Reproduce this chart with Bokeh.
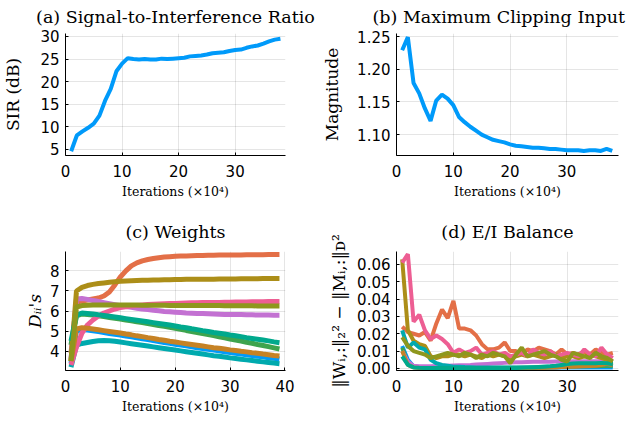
from bokeh.plotting import figure
from bokeh.layouts import gridplot
from bokeh.models import Range1d, FixedTicker, NumeralTickFormatter
from bokeh.embed import file_html
from bokeh.resources import INLINE

# ---------------- data ----------------
iters_ab = list(range(1, 39))
sir_db = [4.6, 8.1, 9.0, 9.8, 10.7, 12.5, 15.8, 18.4, 22.3, 24.0,
          25.2, 25.0, 24.9, 25.0, 24.9, 24.9, 25.1, 25.0, 25.1, 25.2,
          25.3, 25.6, 25.7, 25.8, 26.0, 26.3, 26.4, 26.5, 26.8, 27.0,
          27.1, 27.5, 27.8, 28.0, 28.4, 28.9, 29.3, 29.5]
max_clip = [1.229, 1.249, 1.179, 1.163, 1.140, 1.121, 1.152, 1.161, 1.155, 1.145,
            1.127, 1.119, 1.112, 1.106, 1.100, 1.096, 1.092, 1.090, 1.088, 1.085,
            1.083, 1.082, 1.081, 1.080, 1.080, 1.079, 1.078, 1.078, 1.077, 1.076,
            1.076, 1.076, 1.075, 1.076, 1.076, 1.075, 1.078, 1.075]

iters_c = list(range(1, 40))
w_blue = [3.4, 5.0, 5.08, 5.05, 5.01, 4.97, 4.93, 4.88, 4.84, 4.8,
          4.75, 4.71, 4.66, 4.61, 4.57, 4.52, 4.48, 4.43, 4.39, 4.34,
          4.3, 4.26, 4.21, 4.17, 4.13, 4.09, 4.05, 4.01, 3.97, 3.93,
          3.89, 3.85, 3.81, 3.78, 3.74, 3.71, 3.67, 3.64, 3.6]
w_orange = [3.9, 6.45, 6.5, 6.55, 6.6, 6.65, 6.75, 6.95, 7.3, 7.7,
            8.0, 8.25, 8.4, 8.5, 8.57, 8.62, 8.66, 8.69, 8.71, 8.73,
            8.74, 8.75, 8.76, 8.77, 8.77, 8.78, 8.78, 8.79, 8.79, 8.8,
            8.8, 8.8, 8.81, 8.81, 8.81, 8.81, 8.82, 8.82, 8.82]
w_green = [4.3, 5.75, 5.85, 5.83, 5.8, 5.76, 5.72, 5.68, 5.64, 5.6,
           5.55, 5.51, 5.46, 5.42, 5.37, 5.33, 5.28, 5.24, 5.19, 5.14,
           5.09, 5.03, 4.98, 4.93, 4.87, 4.82, 4.77, 4.71, 4.66, 4.6,
           4.55, 4.5, 4.44, 4.39, 4.33, 4.28, 4.22, 4.16, 4.1]
w_purple = [3.6, 6.6, 6.62, 6.58, 6.52, 6.47, 6.42, 6.37, 6.32, 6.27,
            6.22, 6.18, 6.14, 6.1, 6.07, 6.04, 6.01, 5.98, 5.96, 5.94,
            5.92, 5.9, 5.89, 5.88, 5.87, 5.86, 5.85, 5.84, 5.83, 5.83,
            5.82, 5.82, 5.81, 5.81, 5.8, 5.8, 5.8, 5.79, 5.79]
w_olive = [3.5, 7.0, 7.18, 7.27, 7.33, 7.37, 7.4, 7.43, 7.46, 7.48,
           7.5, 7.51, 7.52, 7.53, 7.54, 7.55, 7.55, 7.56, 7.56, 7.57,
           7.57, 7.58, 7.58, 7.58, 7.59, 7.59, 7.59, 7.6, 7.6, 7.6,
           7.6, 7.61, 7.61, 7.61, 7.61, 7.62, 7.62, 7.62, 7.62]
w_teal = [3.2, 4.3, 4.38, 4.43, 4.48, 4.51, 4.53, 4.52, 4.49, 4.45,
          4.41, 4.37, 4.33, 4.29, 4.25, 4.21, 4.17, 4.13, 4.09, 4.05,
          4.01, 3.97, 3.93, 3.89, 3.85, 3.81, 3.77, 3.74, 3.7, 3.66,
          3.63, 3.59, 3.56, 3.53, 3.49, 3.46, 3.43, 3.4, 3.37]
w_pink = [3.3, 4.2, 4.9, 5.3, 5.55, 5.75, 5.9, 6.0, 6.1, 6.17,
          6.21, 6.25, 6.28, 6.3, 6.32, 6.34, 6.35, 6.36, 6.37, 6.38,
          6.39, 6.4, 6.41, 6.41, 6.42, 6.42, 6.43, 6.43, 6.44, 6.44,
          6.45, 6.45, 6.45, 6.46, 6.46, 6.46, 6.47, 6.47, 6.47]
w_brown = [3.5, 5.1, 5.17, 5.14, 5.1, 5.06, 5.02, 4.98, 4.94, 4.9,
           4.85, 4.81, 4.76, 4.72, 4.67, 4.63, 4.58, 4.54, 4.49, 4.45,
           4.41, 4.37, 4.33, 4.29, 4.25, 4.21, 4.17, 4.14, 4.1, 4.06,
           4.03, 3.99, 3.96, 3.92, 3.89, 3.85, 3.82, 3.78, 3.75]
w_seagreen = [4.5, 5.8, 5.9, 5.88, 5.85, 5.81, 5.78, 5.74, 5.7, 5.66,
              5.62, 5.58, 5.54, 5.5, 5.46, 5.42, 5.38, 5.34, 5.3, 5.25,
              5.2, 5.16, 5.11, 5.07, 5.02, 4.98, 4.93, 4.89, 4.85, 4.8,
              4.76, 4.72, 4.67, 4.63, 4.59, 4.55, 4.51, 4.46, 4.42]
w_lime = [3.5, 6.2, 6.27, 6.29, 6.3, 6.3, 6.3, 6.3, 6.3, 6.3,
          6.3, 6.3, 6.3, 6.29, 6.29, 6.29, 6.29, 6.29, 6.28, 6.28,
          6.28, 6.28, 6.28, 6.27, 6.27, 6.27, 6.27, 6.27, 6.26, 6.26,
          6.26, 6.26, 6.26, 6.26, 6.25, 6.25, 6.25, 6.25, 6.25]

ei_blue = [0.013, 0.005, 0.0012, 0.0006, 0.0004, 0.0003, 0.0003, 0.0003, 0.0003, 0.0003,
           0.0003, 0.0003, 0.0003, 0.0003, 0.0003, 0.0003, 0.0003, 0.0003, 0.0003, 0.0003,
           0.0003, 0.0003, 0.0003, 0.0003, 0.0003, 0.0004, 0.0004, 0.0004, 0.0005, 0.0005,
           0.0005, 0.0005, 0.0006, 0.0006, 0.0006, 0.0006, 0.0006, 0.0005]
ei_orange = [0.024, 0.021, 0.02, 0.019, 0.021, 0.016, 0.026, 0.034, 0.029, 0.039,
             0.023, 0.023, 0.022, 0.019, 0.014, 0.011, 0.011, 0.012, 0.015, 0.01,
             0.01, 0.008, 0.011, 0.01, 0.012, 0.011, 0.01, 0.008, 0.011, 0.008,
             0.009, 0.008, 0.01, 0.008, 0.011, 0.009, 0.008, 0.009]
ei_green = [0.012, 0.003, 0.0008, 0.0005, 0.0004, 0.0004, 0.0004, 0.0004, 0.0004, 0.0004,
            0.0004, 0.0004, 0.0004, 0.0004, 0.0004, 0.0004, 0.0004, 0.0004, 0.0004, 0.0004,
            0.0004, 0.0004, 0.0004, 0.0005, 0.0005, 0.0006, 0.0007, 0.0008, 0.0009, 0.001,
            0.0011, 0.0012, 0.0012, 0.0013, 0.0013, 0.0014, 0.0014, 0.0012]
ei_purple = [0.01, 0.004, 0.0015, 0.0012, 0.0012, 0.0013, 0.0014, 0.0015, 0.0016, 0.0017,
             0.0018, 0.0019, 0.002, 0.0022, 0.0024, 0.0026, 0.0028, 0.003, 0.0032, 0.0034,
             0.0035, 0.0036, 0.0037, 0.0038, 0.0038, 0.0039, 0.0039, 0.004, 0.004, 0.004,
             0.0041, 0.0041, 0.0041, 0.0042, 0.0042, 0.0042, 0.0042, 0.004]
ei_olive = [0.063, 0.022, 0.016, 0.014, 0.013, 0.007, 0.006, 0.007, 0.007, 0.008,
            0.008, 0.007, 0.008, 0.007, 0.006, 0.008, 0.007, 0.008, 0.007, 0.006,
            0.007, 0.008, 0.007, 0.008, 0.007, 0.006, 0.007, 0.008, 0.006, 0.007,
            0.007, 0.006, 0.007, 0.008, 0.007, 0.006, 0.005, 0.004]
ei_teal = [0.022, 0.012, 0.015, 0.012, 0.011, 0.005, 0.003, 0.002, 0.0015, 0.001,
           0.001, 0.0008, 0.0007, 0.0006, 0.0005, 0.0005, 0.0005, 0.0005, 0.0005, 0.0005,
           0.0005, 0.0005, 0.0006, 0.0007, 0.0008, 0.001, 0.001, 0.0012, 0.0015, 0.0018,
           0.002, 0.002, 0.0022, 0.0022, 0.0024, 0.0024, 0.0023, 0.0015]
ei_pink = [0.061, 0.066, 0.027, 0.031, 0.022, 0.017, 0.019, 0.017, 0.014, 0.009,
           0.011, 0.009, 0.01, 0.012, 0.008, 0.009, 0.01, 0.008, 0.009, 0.007,
           0.008, 0.009, 0.007, 0.011, 0.009, 0.008, 0.01, 0.007, 0.008, 0.009,
           0.008, 0.007, 0.011, 0.008, 0.007, 0.012, 0.008, 0.006]
ei_brown = [0.01, 0.002, 0.0006, 0.0003, 0.0002, 0.0002, 0.0002, 0.0002, 0.0002, 0.0002,
            0.0002, 0.0002, 0.0002, 0.0002, 0.0002, 0.0002, 0.0002, 0.0002, 0.0002, 0.0002,
            0.0002, 0.0002, 0.0003, 0.0003, 0.0004, 0.0004, 0.0005, 0.0006, 0.0008, 0.0009,
            0.001, 0.0011, 0.0012, 0.0014, 0.0016, 0.002, 0.0025, 0.0018]
ei_seagreen = [0.007, 0.002, 0.0006, 0.0004, 0.0003, 0.0003, 0.0003, 0.0003, 0.0003, 0.0003,
               0.0003, 0.0003, 0.0003, 0.0003, 0.0003, 0.0003, 0.0003, 0.0003, 0.0003, 0.0003,
               0.0003, 0.0004, 0.0005, 0.0006, 0.0008, 0.001, 0.0012, 0.0015, 0.002, 0.0025,
               0.0028, 0.003, 0.003, 0.003, 0.003, 0.0032, 0.003, 0.0025]
ei_lime = [0.018, 0.013, 0.01, 0.009, 0.008, 0.006, 0.007, 0.008, 0.009, 0.008,
           0.007, 0.009, 0.008, 0.006, 0.008, 0.007, 0.009, 0.008, 0.007, 0.003,
           0.008, 0.012, 0.007, 0.008, 0.009, 0.01, 0.008, 0.007, 0.005, 0.004,
           0.009, 0.008, 0.007, 0.006, 0.009, 0.007, 0.006, 0.004]

palette = ["#009AFA", "#E36F47", "#3EA44E", "#C371D2", "#AC8E18",
           "#00AAAE", "#ED5E93", "#C68225", "#00A98D", "#8E971D"]
weights = [w_blue, w_orange, w_green, w_purple, w_olive,
           w_teal, w_pink, w_brown, w_seagreen, w_lime]
balance = [ei_blue, ei_orange, ei_green, ei_purple, ei_olive,
           ei_teal, ei_pink, ei_brown, ei_seagreen, ei_lime]

titles = ["(a) Signal-to-Interference Ratio", "(b) Maximum Clipping Input",
          "(c) Weights", "(d) E/I Balance"]
xticks_abd = [0, 10, 20, 30]
xticks_c = [0, 10, 20, 30, 40]
yticks_a = [5, 10, 15, 20, 25, 30]
yticks_b = [1.10, 1.15, 1.20, 1.25]
yticks_c = [4, 5, 6, 7, 8]
yticks_d = [0.0, 0.01, 0.02, 0.03, 0.04, 0.05, 0.06]

SERIF = "DejaVu Serif"
SANS = "DejaVu Sans"
XLABEL = "Iterations (×10⁴)"


def make_fig(title, ylabel, xr, yr, xticks, yticks, width, height, borders,
             title_standoff, title_offset, ylabel_standoff, yfmt=None):
    left, right, top, bottom = borders
    p = figure(width=width, height=height, output_backend="svg", toolbar_location=None,
               x_range=Range1d(*xr), y_range=Range1d(*yr),
               min_border_left=left, min_border_right=right,
               min_border_top=top, min_border_bottom=bottom)
    p.title.text = title
    p.title.text_font = SERIF
    p.title.text_font_size = "17.5px"
    p.title.text_font_style = "normal"
    p.title.text_color = "#000000"
    p.title.vertical_align = "top"
    p.title.standoff = title_standoff
    if title_offset is None:
        p.title.align = "center"
    else:
        p.title.align = "left"
        p.title.offset = title_offset
    p.outline_line_color = None
    p.background_fill_color = "white"
    p.border_fill_color = "white"
    for ax in (p.xaxis[0], p.yaxis[0]):
        ax.axis_line_color = "#000000"
        ax.axis_line_width = 1
        ax.major_tick_in = 3
        ax.major_tick_out = 0
        ax.major_tick_line_color = "#000000"
        ax.minor_tick_line_color = None
        ax.major_label_text_font = SANS
        ax.major_label_text_font_size = "15px"
        ax.major_label_text_color = "#000000"
        ax.axis_label_text_font = SERIF
        ax.axis_label_text_font_style = "normal"
        ax.axis_label_text_color = "#000000"
    p.xaxis.axis_label = XLABEL
    p.xaxis.axis_label_text_font_size = "12.5px"
    p.xaxis.axis_label_standoff = 4
    p.xaxis.major_label_standoff = 9
    p.yaxis.axis_label = ylabel
    p.yaxis.axis_label_text_font_size = "17px"
    p.yaxis.axis_label_standoff = ylabel_standoff
    p.yaxis.major_label_standoff = 6
    p.xaxis.ticker = FixedTicker(ticks=xticks)
    p.yaxis.ticker = FixedTicker(ticks=yticks)
    if yfmt:
        p.yaxis.formatter = NumeralTickFormatter(format=yfmt)
    p.grid.grid_line_color = "#000000"
    p.grid.grid_line_alpha = 0.1
    p.grid.grid_line_width = 1
    return p


pa = make_fig(titles[0], "SIR (dB)", (0, 38.9), (3.67, 30.66),
              xticks_abd, yticks_a, 316, 211, (63, 31, 33, 56), 10, None, 14)
pa.line(iters_ab, sir_db, line_color=palette[0], line_width=4)

pb = make_fig(titles[1], "Magnitude", (0, 39.1), (1.068, 1.2546),
              xticks_abd, yticks_b, 312, 211, (79, 10, 33, 56), 10, -24, 12, "0.00")
pb.line(iters_ab, max_clip, line_color=palette[0], line_width=4)

pc = make_fig(titles[2], "Dᵢᵢ's", (0, 40.1), (3.03, 8.97),
              xticks_c, yticks_c, 316, 208, (64, 31, 39, 49), 16, None, 2)
pc.yaxis.axis_label_text_font_style = "italic"
for col, ys in zip(palette, weights):
    pc.line(iters_c, ys, line_color=col, line_width=5)

pd_ = make_fig(titles[3], "‖Wᵢ,:‖₂² − ‖Mᵢ,:‖ᴅ²", (0, 39.0), (-0.0012, 0.0675),
               xticks_abd, yticks_d, 312, 208, (80, 10, 40, 49), 16, None, 5, "0.00")
for col, ys in zip(palette, balance):
    pd_.line(iters_ab, ys, line_color=col, line_width=4)

grid = gridplot([[pa, pb], [pc, pd_]], toolbar_location=None)

open("out.html", "w").write(file_html(grid, INLINE))
